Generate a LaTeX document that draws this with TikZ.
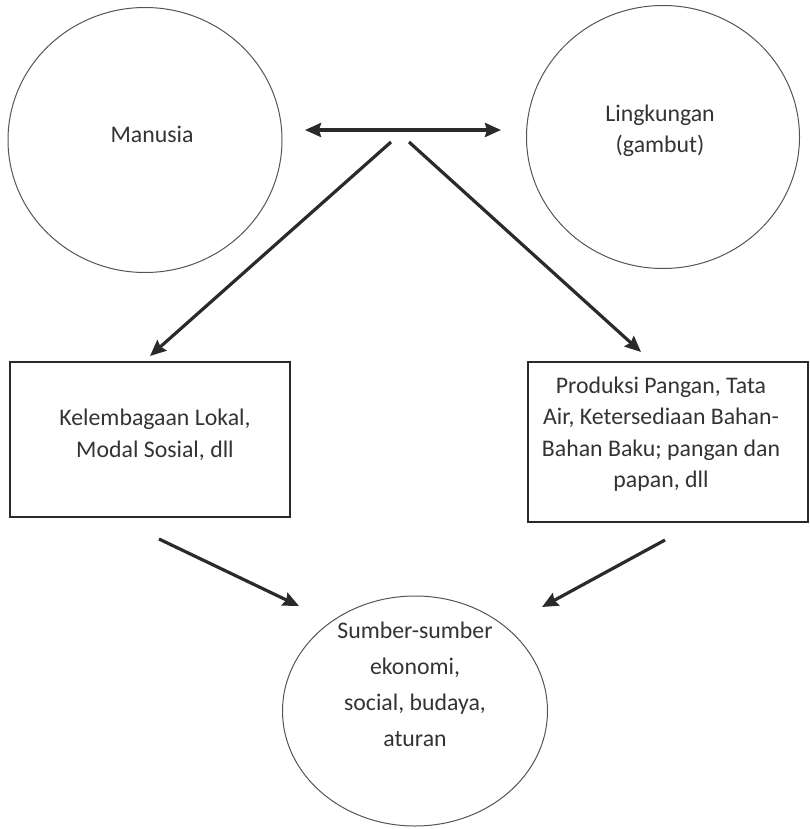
\documentclass[tikz,border=0pt]{standalone}
\usepackage{fontspec}
\setmainfont{Carlito}
\usetikzlibrary{shapes.geometric,arrows.meta}
\definecolor{txt}{HTML}{333333}
\definecolor{ln}{HTML}{2A2A2A}
\tikzset{
  oval/.style={draw=ln!80, line width=1pt, ellipse, inner sep=0pt},
  boxnode/.style={draw=ln, line width=1.6pt, rectangle, inner sep=0pt},
  lbl/.style={text=txt, align=center, font=\fontsize{23.8}{31.5}\selectfont},
  arr/.style={draw=ln, line width=3.2pt, -{Stealth[length=16pt,width=14pt,inset=2pt]}},
  darr/.style={draw=ln, line width=3.2pt, {Stealth[length=16pt,width=14pt,inset=2pt]}-{Stealth[length=16pt,width=14pt,inset=2pt]}}
}
\begin{document}
\begin{tikzpicture}[x=1pt,y=-1pt]
\useasboundingbox (0,0) rectangle (809,829);
% ellipses
\node[oval, minimum width=274pt, minimum height=265pt] (manusia) at (145,140) {};
\node[lbl] (manusiaT) at (152,134) {Manusia};
\node[oval, minimum width=273pt, minimum height=263pt] (lingk) at (663,137) {};
\node[lbl] (lingkT) at (660,131) {Lingkungan\\(gambut)};
\node[oval, minimum width=265pt, minimum height=230pt] (sumber) at (415,711) {};
\node[lbl, font=\fontsize{23.8}{36}\selectfont] (sumberT) at (415,684) {Sumber-sumber\\ekonomi,\\social, budaya,\\aturan};
% boxes
\node[boxnode, minimum width=280pt, minimum height=155pt] (kelem) at (150,439.5) {};
\node[lbl] (kelemT) at (155,435) {Kelembagaan Lokal,\\Modal Sosial, dll};
\node[boxnode, minimum width=280pt, minimum height=160pt] (prod) at (668,442) {};
\node[lbl] (prodT) at (661,434) {Produksi Pangan, Tata\\Air, Ketersediaan Bahan-\\Bahan Baku; pangan dan\\papan, dll};
% connector points
\coordinate (hL) at (305,130);
\coordinate (hR) at (501,130);
\coordinate (dL0) at (391,142);
\coordinate (dL1) at (150,356);
\coordinate (dR0) at (409,142);
\coordinate (dR1) at (641,352);
\coordinate (bL0) at (159,539);
\coordinate (bL1) at (299,606);
\coordinate (bR0) at (665,540);
\coordinate (bR1) at (542,607);
\draw[darr] (hL) -- (hR);
\draw[arr] (dL0) -- (dL1);
\draw[arr] (dR0) -- (dR1);
\draw[arr] (bL0) -- (bL1);
\draw[arr] (bR0) -- (bR1);
\end{tikzpicture}
\end{document}
